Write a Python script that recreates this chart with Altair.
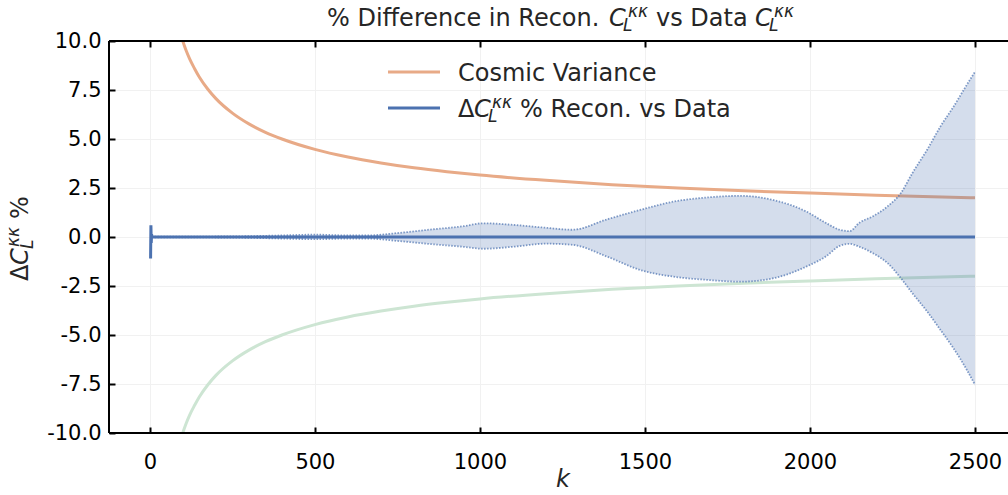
import altair as alt
import pandas as pd

# Cosmic variance band (percent), read at selected multipoles
cv_L = [95, 100, 110, 120, 135, 150, 175, 200, 250, 300, 350, 400, 500, 600,
        700, 800, 900, 1000, 1200, 1400, 1600, 1800, 2000, 2200, 2400, 2500]
cv_upper = [10.2, 9.97, 9.5, 9.1, 8.6, 8.15, 7.55, 7.06, 6.32, 5.77, 5.34, 5.0,
            4.47, 4.08, 3.78, 3.53, 3.33, 3.16, 2.89, 2.67, 2.5, 2.36, 2.24,
            2.13, 2.04, 2.0]
cv_lower = [-10.2, -9.97, -9.5, -9.1, -8.6, -8.15, -7.55, -7.06, -6.32, -5.77,
            -5.34, -5.0, -4.47, -4.08, -3.78, -3.53, -3.33, -3.16, -2.89,
            -2.67, -2.5, -2.36, -2.24, -2.13, -2.04, -2.0]

# Spread of the per-multipole differences (upper / lower edge of the dotted fan)
fan_L = [5, 100, 250, 350, 400, 500, 600, 660, 750, 850, 950, 1010, 1100,
         1200, 1280, 1385, 1485, 1585, 1690, 1790, 1890, 1990, 2050, 2090,
         2120, 2150, 2190, 2235, 2275, 2310, 2355, 2395, 2435, 2475, 2500]
fan_upper = [0.02, 0.02, 0.03, 0.06, 0.08, 0.12, 0.08, 0.08, 0.2, 0.38, 0.55,
             0.7, 0.62, 0.47, 0.37, 0.9, 1.38, 1.8, 2.02, 2.1, 1.88, 1.29,
             0.7, 0.37, 0.3, 0.73, 1.05, 1.56, 2.23, 3.25, 4.45, 5.63, 6.65,
             7.76, 8.43]
fan_lower = [-0.02, -0.02, -0.03, -0.06, -0.08, -0.11, -0.08, -0.08, -0.2,
             -0.36, -0.5, -0.6, -0.5, -0.34, -0.4, -1.0, -1.68, -2.02, -2.19,
             -2.28, -2.1, -1.5, -0.97, -0.45, -0.35, -0.5, -0.82, -1.33,
             -2.09, -2.86, -3.8, -4.73, -5.68, -6.77, -7.54]

# Mean difference, with the low-multipole spike
mean_L = [2, 3, 4, 5, 6, 8, 12, 2500]
mean_val = [-1.1, 0.6, -0.3, 0.15, 0.0, 0.0, 0.0, 0.0]

x_ticks = [0, 500, 1000, 1500, 2000, 2500]
y_ticks = [-10, -7.5, -5, -2.5, 0, 2.5, 5, 7.5, 10]

FONT = "DejaVu Sans"
BLUE = "#4c72b0"
ORANGE = "#e8aa87"
GREEN = "#cde5d3"
TEXT = "#262626"
W, H = 899, 392

cv_df = pd.DataFrame({"L": cv_L, "upper": cv_upper, "lower": cv_lower})
fan_df = pd.DataFrame({"L": fan_L, "up": fan_upper, "lo": fan_lower})
mean_df = pd.DataFrame({"L": mean_L, "v": mean_val})
one = pd.DataFrame({"a": [0]})

xscale = alt.Scale(domain=[-124, 2600], nice=False, zero=False)
yscale = alt.Scale(domain=[-10, 10], nice=False, zero=False)

# inward ticks: the axis is pulled 6px into the plot and ticks point back out
x_axis_bottom = alt.Axis(values=x_ticks, format="d", offset=-6, tickSize=6,
                         tickWidth=2, tickColor="black", domain=False,
                         grid=True, gridColor="#f1f1f1", gridWidth=1,
                         labelFontSize=21, labelFont=FONT, labelColor="black",
                         labelPadding=18, title=None)
x_axis_top = alt.Axis(orient="top", values=x_ticks, offset=-6, tickSize=6,
                      tickWidth=2, tickColor="black", domain=False,
                      grid=False, labels=False, title=None)
y_axis = alt.Axis(values=y_ticks, offset=-6, tickSize=6, tickWidth=2,
                  tickColor="black", domain=False, grid=True,
                  gridColor="#f1f1f1", gridWidth=1, labelFontSize=21,
                  labelFont=FONT, labelColor="black", labelPadding=8, title=None,
                  labelExpr="replace(format(datum.value, '.1f'), '−', '-')")


def xq(axis=None):
    return alt.X("L:Q", scale=xscale, axis=axis, title=None)


def yq(field):
    return alt.Y(field, scale=yscale, axis=y_axis, title=None)


cv_up = alt.Chart(cv_df).mark_line(color=ORANGE, strokeWidth=3, clip=True,
                                   interpolate="monotone").encode(
    x=xq(x_axis_bottom), y=yq("upper:Q"))
cv_lo = alt.Chart(cv_df).mark_line(color=GREEN, strokeWidth=3, clip=True,
                                   interpolate="monotone").encode(
    x=xq(x_axis_top), y=yq("lower:Q"))

fan_fill = alt.Chart(fan_df).mark_area(color=BLUE, opacity=0.24, clip=True,
                                       interpolate="monotone").encode(
    x=xq(), y=yq("up:Q"), y2="lo:Q")
fan_top = alt.Chart(fan_df).mark_line(color=BLUE, opacity=0.7, strokeWidth=1.8,
                                      strokeDash=[1.5, 1.5], clip=True,
                                      interpolate="monotone").encode(
    x=xq(), y=yq("up:Q"))
fan_bot = alt.Chart(fan_df).mark_line(color=BLUE, opacity=0.7, strokeWidth=1.8,
                                      strokeDash=[1.5, 1.5], clip=True,
                                      interpolate="monotone").encode(
    x=xq(), y=yq("lo:Q"))

mean_line = alt.Chart(mean_df).mark_line(color=BLUE, strokeWidth=3, clip=True).encode(
    x=xq(), y=yq("v:Q"))


def label(text, x, y, size=24, style="normal", angle=0, color=TEXT):
    return alt.Chart(one).mark_text(
        text=text, align="left", baseline="alphabetic", font=FONT,
        fontSize=size, fontStyle=style, angle=angle, color=color
    ).encode(x=alt.value(x), y=alt.value(y))


def rule(x, x2, y, y2, color="black", width=2):
    return alt.Chart(one).mark_rule(color=color, strokeWidth=width).encode(
        x=alt.value(x), x2=alt.value(x2), y=alt.value(y), y2=alt.value(y2))


# frame: left, top and bottom spines
frame = [rule(0, 0, 0, H), rule(0, W, 0, 0), rule(0, W, H, H)]

# plot-area origin sits at (109, 41) on the page
OX, OY = 109, 41

# Title: % Difference in Recon. C_L^kk vs Data C_L^kk
title = [
    label("% Difference in Recon.", 327 - OX, 26 - OY),
    label("C", 609 - OX, 26 - OY, style="italic"),
    label("κκ", 628 - OX, 17 - OY, size=17, style="italic"),
    label("L", 623 - OX, 31 - OY, size=17, style="italic"),
    label("vs Data", 656 - OX, 26 - OY),
    label("C", 755 - OX, 26 - OY, style="italic"),
    label("κκ", 774 - OX, 17 - OY, size=17, style="italic"),
    label("L", 769 - OX, 31 - OY, size=17, style="italic"),
]

# Y axis title: ΔC_L^kk %
ytitle = [
    label("Δ", 28 - OX, 281 - OY, angle=270),
    label("C", 28 - OX, 265 - OY, style="italic", angle=270),
    label("κκ", 19 - OX, 247 - OY, size=17, style="italic", angle=270),
    label("L", 33 - OX, 249 - OY, size=17, style="italic", angle=270),
    label("%", 28 - OX, 219 - OY, angle=270),
]

xtitle = [label("k", 556 - OX, 487 - OY, style="italic")]

# Legend
legend = [
    rule(388 - OX, 440 - OX, 72 - OY, 72 - OY, color=ORANGE, width=3),
    rule(388 - OX, 440 - OX, 108 - OY, 108 - OY, color=BLUE, width=3),
    label("Cosmic Variance", 458 - OX, 81 - OY),
    label("Δ", 458 - OX, 117 - OY),
    label("C", 474 - OX, 117 - OY, style="italic"),
    label("κκ", 492 - OX, 108 - OY, size=17, style="italic"),
    label("L", 488 - OX, 122 - OY, size=17, style="italic"),
    label("% Recon. vs Data", 520 - OX, 117 - OY),
]

chart = alt.layer(
    cv_up, cv_lo, fan_fill, fan_top, fan_bot, mean_line,
    *frame, *title, *ytitle, *xtitle, *legend
).resolve_axis(x="independent").properties(
    width=W, height=H,
    autosize=alt.AutoSizeParams(type="none"),
    padding={"left": OX, "top": OY, "right": 0, "bottom": 495 - OY - H},
    background="white",
).configure_view(stroke=None)

chart.save("out.html", embed_options={"renderer": "svg", "actions": False})
